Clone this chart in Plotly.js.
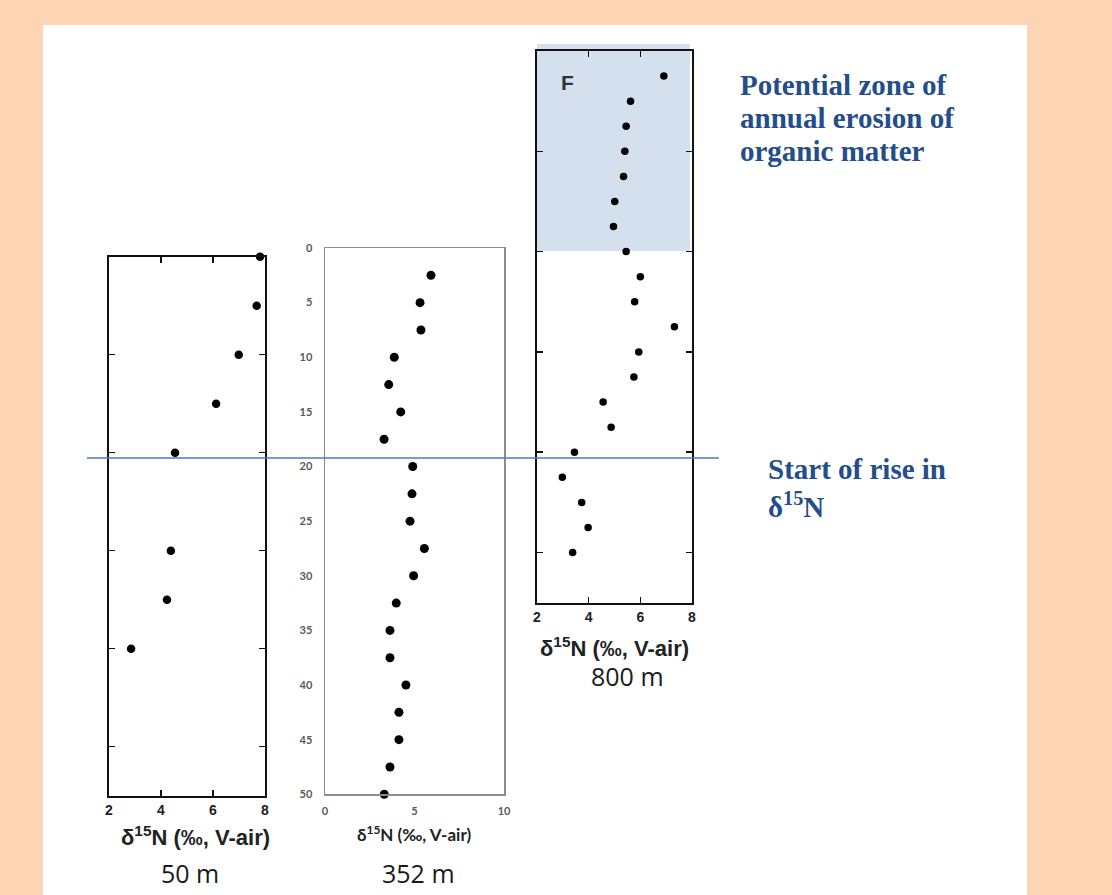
<!DOCTYPE html>
<html>
<head>
<meta charset="utf-8">
<script src="https://cdn.plot.ly/plotly-3.0.1.min.js"></script>
<style>html,body{margin:0;padding:0;background:#fdd5b4;}#chart{width:1112px;height:895px;}</style>
</head>
<body>
<div id="chart"></div>
<script>
// ---- Data ----
// Site 50 m
var depth50 = [0, 5, 10, 15, 20, 30, 35, 40];
var d15N50  = [7.81, 7.68, 6.99, 6.12, 4.54, 4.38, 4.23, 2.85];
// Site 352 m
var depth352 = [2.5, 5, 7.5, 10, 12.5, 15, 17.5, 20, 22.5, 25, 27.5, 30, 32.5, 35, 37.5, 40, 42.5, 45, 47.5, 50];
var d15N352  = [5.92, 5.31, 5.36, 3.87, 3.56, 4.23, 3.30, 4.90, 4.86, 4.75, 5.55, 4.95, 3.98, 3.63, 3.63, 4.52, 4.13, 4.13, 3.63, 3.31];
// Site 800 m
var depth800 = [2.5, 5, 7.5, 10, 12.5, 15, 17.5, 20, 22.5, 25, 27.5, 30, 32.5, 35, 37.5, 40, 42.5, 45, 47.5, 50];
var d15N800  = [6.91, 5.62, 5.45, 5.40, 5.35, 5.01, 4.96, 5.45, 6.00, 5.78, 7.32, 5.94, 5.75, 4.56, 4.87, 3.45, 2.98, 3.73, 3.98, 3.38];
// Ticks
var xTicksA = [2, 4, 6, 8];
var xTicksB = [0, 5, 10];
var yTicksA = [0, 10, 20, 30, 40, 50];
var yTicksB = [0, 5, 10, 15, 20, 25, 30, 35, 40, 45, 50];
// Labels
var axisTitle = 'δ<sup>15</sup>N (‰, V-air)';
var siteLabels = ['50 m', '352 m', '800 m'];
var zoneLines = ['Potential zone of', 'annual erosion of', 'organic matter'];
var riseLines = ['Start of rise in', 'δ<sup>15</sup>N'];

// ---- helpers: pixel -> paper ----
var W = 1112, H = 895;
function px(x){ return x / W; }
function py(y){ return 1 - y / H; }

var traces = [
  {x: d15N50, y: depth50, xaxis: 'x', yaxis: 'y', mode: 'markers', type: 'scatter', cliponaxis: false,
   marker: {color: '#000', size: 8.5}, hoverinfo: 'x+y'},
  {x: d15N352, y: depth352, xaxis: 'x2', yaxis: 'y2', mode: 'markers', type: 'scatter', cliponaxis: false,
   marker: {color: '#000', size: 9}, hoverinfo: 'x+y'},
  {x: d15N800, y: depth800, xaxis: 'x3', yaxis: 'y3', mode: 'markers', type: 'scatter', cliponaxis: false,
   marker: {color: '#000', size: 7.5}, hoverinfo: 'x+y'}
];

var boldTick = {family: 'Liberation Sans, Arial, sans-serif', size: 14, color: '#222', weight: 'bold'};
function boxAxisX(dom, anchor){
  return {domain: dom, anchor: anchor, range: [2, 8], tickvals: xTicksA, ticktext: xTicksA.map(String),
    ticks: 'inside', ticklen: 6, tickwidth: 1.5, tickcolor: '#111', mirror: 'ticks',
    showline: true, linecolor: '#111', linewidth: 2, showgrid: false, zeroline: false,
    tickfont: boldTick, fixedrange: true};
}
function boxAxisY(dom, anchor){
  return {domain: dom, anchor: anchor, range: [55, 0], tickvals: yTicksA,
    ticks: 'inside', ticklen: 6, tickwidth: 1.5, tickcolor: '#111', mirror: 'ticks',
    showline: true, linecolor: '#111', linewidth: 2, showgrid: false, zeroline: false,
    showticklabels: false, fixedrange: true};
}
var grayTick = {family: 'Lato, Open Sans, sans-serif', size: 11, color: '#595959', weight: 'bold'};

var blueFont = {family: 'Liberation Serif, Times New Roman, serif', size: 29, color: '#234e8b', weight: 'bold'};
var annotations = [
  {xref: 'paper', yref: 'paper', x: px(196), y: py(836), text: axisTitle, showarrow: false,
   xanchor: 'center', yanchor: 'middle',
   font: {family: 'Liberation Sans, Arial, sans-serif', size: 22, color: '#222', weight: 'bold'}},
  {xref: 'paper', yref: 'paper', x: px(614), y: py(647), text: axisTitle, showarrow: false,
   xanchor: 'center', yanchor: 'middle',
   font: {family: 'Liberation Sans, Arial, sans-serif', size: 22, color: '#222', weight: 'bold'}},
  {xref: 'paper', yref: 'paper', x: px(414), y: py(833), text: axisTitle, showarrow: false,
   xanchor: 'center', yanchor: 'middle',
   font: {family: 'Lato, Open Sans, sans-serif', size: 17, color: '#222', weight: 'bold'}},
  {xref: 'paper', yref: 'paper', x: px(190), y: py(873), text: siteLabels[0], showarrow: false,
   xanchor: 'center', yanchor: 'middle',
   font: {family: 'Open Sans, sans-serif', size: 25, color: '#1a1a1a'}},
  {xref: 'paper', yref: 'paper', x: px(418), y: py(873), text: siteLabels[1], showarrow: false,
   xanchor: 'center', yanchor: 'middle',
   font: {family: 'Open Sans, sans-serif', size: 25, color: '#1a1a1a'}},
  {xref: 'paper', yref: 'paper', x: px(627), y: py(676), text: siteLabels[2], showarrow: false,
   xanchor: 'center', yanchor: 'middle',
   font: {family: 'Open Sans, sans-serif', size: 25, color: '#1a1a1a'}},
  {xref: 'paper', yref: 'paper', x: px(567), y: py(82), text: 'F', showarrow: false,
   xanchor: 'center', yanchor: 'middle',
   font: {family: 'Liberation Sans, Arial, sans-serif', size: 21, color: '#333', weight: 'bold'}}
];
var zoneY = [85, 118, 151];
zoneLines.forEach(function(t, i){
  annotations.push({xref: 'paper', yref: 'paper', x: px(738), y: py(zoneY[i]), text: t, showarrow: false,
    xanchor: 'left', yanchor: 'middle', align: 'left', font: blueFont});
});
var riseY = [469, 505];
riseLines.forEach(function(t, i){
  annotations.push({xref: 'paper', yref: 'paper', x: px(766), y: py(riseY[i]), text: t, showarrow: false,
    xanchor: 'left', yanchor: 'middle', align: 'left', font: blueFont});
});

var layout = {
  width: W, height: H,
  margin: {l: 0, r: 0, t: 0, b: 0, pad: 0},
  paper_bgcolor: '#fdd5b4',
  plot_bgcolor: 'rgba(0,0,0,0)',
  showlegend: false,
  xaxis: boxAxisX([px(109), px(265)], 'y'),
  yaxis: boxAxisY([py(795.7), py(256.7)], 'x'),
  xaxis2: {domain: [px(325), px(504)], anchor: 'y2', range: [0, 10], tickvals: xTicksB,
    ticks: '', showline: true, linecolor: '#8c8c8c', linewidth: 1.5, mirror: true,
    showgrid: false, zeroline: false, fixedrange: true, ticklabelstandoff: 6, tickfont: grayTick},
  yaxis2: {domain: [py(794.3), py(248)], anchor: 'x2', range: [50, 0], tickvals: yTicksB,
    ticks: '', showline: true, linecolor: '#8c8c8c', linewidth: 1.5, mirror: true,
    showgrid: false, zeroline: false, fixedrange: true, ticklabelstandoff: 9, tickfont: grayTick},
  xaxis3: boxAxisX([px(537), px(692)], 'y3'),
  yaxis3: boxAxisY([py(602.7), py(51)], 'x3'),
  shapes: [
    {type: 'rect', xref: 'paper', yref: 'paper', x0: px(43), x1: px(1027), y0: py(895), y1: py(25),
     fillcolor: '#ffffff', line: {width: 0}, layer: 'below'},
    {type: 'rect', xref: 'paper', yref: 'paper', x0: px(537), x1: px(690), y0: py(251), y1: py(44),
     fillcolor: '#d5e0ee', line: {width: 0}, layer: 'below'},
    {type: 'line', xref: 'paper', yref: 'paper', x0: px(87), x1: px(719), y0: py(458), y1: py(458),
     line: {color: '#4a7dba', width: 1.5}}
  ],
  annotations: annotations
};

Plotly.newPlot('chart', traces, layout, {displayModeBar: false, staticPlot: true});
</script>
</body>
</html>
